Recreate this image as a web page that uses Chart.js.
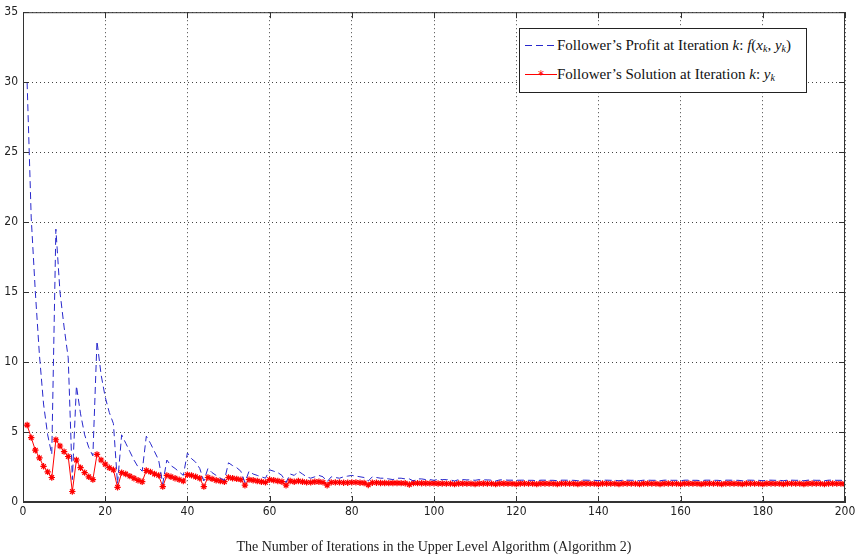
<!DOCTYPE html>
<html>
<head>
<meta charset="utf-8">
<script src="https://cdn.jsdelivr.net/npm/chart.js@4/dist/chart.umd.min.js"></script>
<style>
  body { margin: 0; background: #fff; }
  #wrap { position: relative; width: 855px; height: 560px; }
  #legend {
    position: absolute; left: 519px; top: 28px; width: 286px; height: 63px;
    border: 1px solid #222; background: #fff;
    font-family: "Liberation Serif", "DejaVu Serif", serif; font-size: 15px; color: #111;
  }
  .row { position: absolute; left: 5px; height: 18px; line-height: 18px; white-space: nowrap; }
  .sample { display: inline-block; width: 32px; height: 18px; vertical-align: top; position: relative; }
  .dash { position: absolute; left: 0; right: 0; top: 9px; height: 1px;
          background: repeating-linear-gradient(to right, #2828cc 0 7px, transparent 7px 11px); }
  .solid { position: absolute; left: 0; right: 0; top: 9px; height: 1px; background: #f00; }
  .star { position: absolute; left: 12px; top: 1px; width: 8px; text-align: center; color: #f00; font-size: 12px; font-family: "DejaVu Sans"; }
  i { font-style: italic; }
  sub { font-size: 10px; vertical-align: -2px; line-height: 0; }
</style>
</head>
<body>
<div id="wrap">
  <canvas id="chart" width="855" height="560"></canvas>
  <div id="legend">
    <div class="row" style="top:7px"><span class="sample"><span class="dash"></span></span>Follower’s Profit at Iteration <i>k</i>: <i>f</i>(<i>x<sub>k</sub></i>, <i>y<sub>k</sub></i>)</div>
    <div class="row" style="top:36px"><span class="sample"><span class="solid"></span><span class="star">*</span></span>Follower’s Solution at Iteration <i>k</i>: <i>y<sub>k</sub></i></div>
  </div>
</div>
<script>
const iterations = Array.from({ length: 200 }, (_, i) => i + 1);
const xTicks = [0, 20, 40, 60, 80, 100, 120, 140, 160, 180, 200];
const yTicks = [0, 5, 10, 15, 20, 25, 30, 35];

const profit = [
  30.0, 20.3, 15.0, 10.5, 7.0, 4.8, 3.4, 19.5, 15.0, 12.5,
  10.3, 1.6, 8.3, 6.3, 4.8, 3.9, 3.3, 11.5, 9.1, 7.5,
  6.4, 5.6, 1.3, 4.8, 4.2, 3.6, 3.0, 2.5, 2.2, 4.7,
  4.2, 3.6, 3.0, 1.3, 3.0, 2.6, 2.4, 2.15, 1.9, 3.5,
  3.1, 2.85, 2.4, 1.5, 2.4, 2.1, 1.9, 1.7, 1.55, 2.8,
  2.6, 2.45, 2.2, 1.4, 2.2, 2.0, 1.9, 1.8, 1.7, 2.3,
  2.2, 2.1, 1.9, 1.4, 2.0, 1.9, 2.2, 2.0, 1.8, 1.7,
  1.8, 1.9, 1.8, 1.45, 1.8, 1.75, 1.7, 1.8, 1.85, 1.9,
  1.85, 1.8, 1.75, 1.5, 1.8, 1.75, 1.7, 1.7, 1.65, 1.6,
  1.7, 1.7, 1.65, 1.65, 1.5, 1.65, 1.65, 1.6, 1.6, 1.55,
  1.62, 1.6, 1.6, 1.58, 1.5, 1.6, 1.6, 1.58, 1.58, 1.55,
  1.6, 1.58, 1.58, 1.56, 1.5, 1.58, 1.58, 1.56, 1.56, 1.55,
  1.56, 1.56, 1.55, 1.55, 1.52, 1.56, 1.56, 1.55, 1.55, 1.52,
  1.56, 1.56, 1.55, 1.55, 1.52, 1.56, 1.56, 1.55, 1.55, 1.52,
  1.56, 1.56, 1.55, 1.55, 1.52, 1.56, 1.56, 1.55, 1.55, 1.52,
  1.56, 1.56, 1.55, 1.55, 1.52, 1.56, 1.56, 1.55, 1.55, 1.52,
  1.56, 1.56, 1.55, 1.55, 1.52, 1.56, 1.56, 1.55, 1.55, 1.52,
  1.56, 1.56, 1.55, 1.55, 1.52, 1.56, 1.56, 1.55, 1.55, 1.52,
  1.56, 1.56, 1.55, 1.55, 1.52, 1.56, 1.56, 1.55, 1.55, 1.52,
  1.56, 1.56, 1.55, 1.55, 1.52, 1.56, 1.56, 1.55, 1.55, 1.52
];

const solution = [
  5.5, 4.6, 3.7, 3.15, 2.55, 2.15, 1.75, 4.45, 4.0, 3.6,
  3.25, 0.75, 3.0, 2.45, 2.1, 1.8, 1.6, 3.4, 3.0, 2.7,
  2.45, 2.3, 1.05, 2.1, 2.0, 1.85, 1.7, 1.55, 1.45, 2.25,
  2.15, 2.0, 1.9, 1.1, 1.9, 1.8, 1.7, 1.6, 1.5, 1.95,
  1.9, 1.8, 1.7, 1.1, 1.75, 1.65, 1.55, 1.5, 1.45, 1.75,
  1.7, 1.65, 1.6, 1.2, 1.6, 1.55, 1.5, 1.45, 1.4, 1.6,
  1.55, 1.5, 1.45, 1.2, 1.5, 1.45, 1.5, 1.45, 1.4, 1.4,
  1.45, 1.45, 1.4, 1.2, 1.4, 1.4, 1.4, 1.38, 1.38, 1.4,
  1.4, 1.38, 1.36, 1.22, 1.38, 1.38, 1.36, 1.36, 1.35, 1.36,
  1.36, 1.35, 1.34, 1.25, 1.35, 1.35, 1.34, 1.34, 1.33, 1.34,
  1.32, 1.32, 1.31, 1.31, 1.28, 1.32, 1.32, 1.31, 1.31, 1.28,
  1.32, 1.32, 1.31, 1.31, 1.28, 1.32, 1.32, 1.31, 1.31, 1.28,
  1.32, 1.32, 1.31, 1.31, 1.28, 1.32, 1.32, 1.31, 1.31, 1.28,
  1.32, 1.32, 1.31, 1.31, 1.28, 1.32, 1.32, 1.31, 1.31, 1.28,
  1.32, 1.32, 1.31, 1.31, 1.28, 1.32, 1.32, 1.31, 1.31, 1.28,
  1.32, 1.32, 1.31, 1.31, 1.28, 1.32, 1.32, 1.31, 1.31, 1.28,
  1.32, 1.32, 1.31, 1.31, 1.28, 1.32, 1.32, 1.31, 1.31, 1.28,
  1.32, 1.32, 1.31, 1.31, 1.28, 1.32, 1.32, 1.31, 1.31, 1.28,
  1.32, 1.32, 1.31, 1.31, 1.28, 1.32, 1.32, 1.31, 1.31, 1.28,
  1.32, 1.32, 1.31, 1.31, 1.28, 1.32, 1.32, 1.31, 1.31, 1.28
];

// box round the plot and matlab style inward ticks
const frame = {
  id: "frame",
  afterDraw(chart) {
    const { ctx, chartArea: a, scales } = chart;
    ctx.save();
    ctx.strokeStyle = "#333";
    ctx.lineWidth = 1;
    ctx.strokeRect(a.left + 0.5, a.top + 0.5, a.right - a.left - 1, a.bottom - a.top - 1);
    ctx.beginPath();
    xTicks.forEach((t) => {
      const x = Math.round(scales.x.getPixelForValue(t)) + 0.5;
      ctx.moveTo(x, a.bottom); ctx.lineTo(x, a.bottom - 6);
      ctx.moveTo(x, a.top); ctx.lineTo(x, a.top + 6);
    });
    yTicks.forEach((t) => {
      const y = Math.round(scales.y.getPixelForValue(t)) + 0.5;
      ctx.moveTo(a.left, y); ctx.lineTo(a.left + 6, y);
      ctx.moveTo(a.right, y); ctx.lineTo(a.right - 6, y);
    });
    ctx.stroke();
    ctx.restore();
  }
};

const tickFont = { family: "'Liberation Sans Narrow', 'DejaVu Sans Condensed', sans-serif", size: 12 };

new Chart(document.getElementById("chart"), {
  type: "line",
  data: {
    labels: iterations,
    datasets: [
      {
        label: "Follower's Profit at Iteration k: f(x_k, y_k)",
        data: profit,
        borderColor: "#2828cc",
        borderWidth: 1,
        borderDash: [7, 4],
        pointRadius: 0,
        tension: 0
      },
      {
        label: "Follower's Solution at Iteration k: y_k",
        data: solution,
        borderColor: "#ff0000",
        borderWidth: 1,
        pointStyle: "star",
        pointRadius: 3.2,
        pointBorderColor: "#ff0000",
        pointBorderWidth: 1.2,
        tension: 0
      }
    ]
  },
  options: {
    responsive: false,
    animation: false,
    layout: { padding: { top: 7, right: 10, left: 0, bottom: 0 } },
    plugins: { legend: { display: false }, tooltip: { enabled: false } },
    scales: {
      x: {
        type: "linear",
        min: 0,
        max: 200,
        afterBuildTicks: (s) => { s.ticks = xTicks.map((v) => ({ value: v })); },
        afterFit: (s) => { s.height = 58; s.paddingRight = 0; s.paddingLeft = 0; },
        ticks: { font: tickFont, color: "#222", padding: 3, maxRotation: 0 },
        grid: { color: "#444", drawTicks: false, lineWidth: 1 },
        border: { color: "#333", dash: [1, 3] },
        title: {
          display: true,
          text: "The Number of Iterations in the Upper Level Algorithm (Algorithm 2)",
          font: { family: "'Liberation Serif', 'DejaVu Serif', serif", size: 14 },
          color: "#222",
          padding: { top: 0, bottom: 4 }
        }
      },
      y: {
        min: 0,
        max: 35,
        afterBuildTicks: (s) => { s.ticks = yTicks.map((v) => ({ value: v })); },
        afterFit: (s) => { s.width = 23; },
        ticks: { font: tickFont, color: "#222", padding: 5 },
        grid: { color: "#444", drawTicks: false, lineWidth: 1 },
        border: { color: "#333", dash: [1, 3] }
      }
    }
  },
  plugins: [frame]
});
</script>
</body>
</html>
